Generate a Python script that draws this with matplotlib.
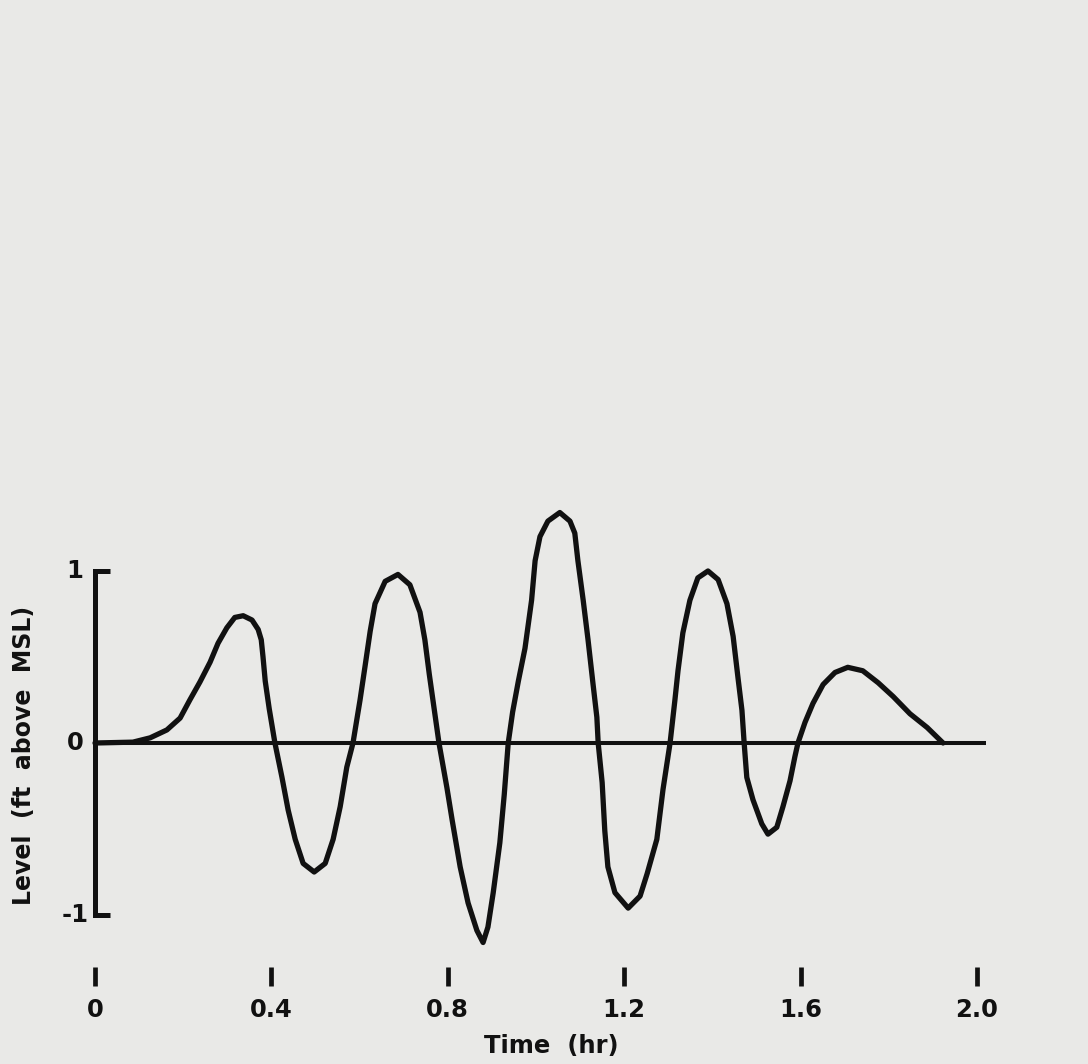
import matplotlib
matplotlib.use("Agg")
import matplotlib.pyplot as plt

# water level record (hr, ft above MSL)
time_hr = [0.000, 0.086, 0.125, 0.163, 0.193, 0.215, 0.238, 0.261, 0.279, 0.299,
           0.317, 0.336, 0.356, 0.370, 0.377, 0.381, 0.386, 0.395, 0.408,
           0.424, 0.438, 0.454, 0.472, 0.497, 0.522, 0.540, 0.556, 0.571, 0.585,
           0.601, 0.612, 0.624, 0.635, 0.658, 0.687, 0.714, 0.737, 0.748, 0.758,
           0.769, 0.780, 0.798, 0.810, 0.828, 0.846, 0.866, 0.880, 0.891, 0.903,
           0.918, 0.928, 0.937, 0.947, 0.960, 0.975, 0.990, 0.998, 1.009,
           1.027, 1.054, 1.077, 1.088, 1.095, 1.107, 1.118, 1.129, 1.138, 1.141,
           1.150, 1.156, 1.163, 1.179, 1.209, 1.236, 1.252, 1.274, 1.288, 1.304,
           1.315, 1.322, 1.333, 1.349, 1.367, 1.390, 1.413, 1.433, 1.447, 1.458,
           1.467, 1.472, 1.478, 1.492, 1.512, 1.526, 1.546, 1.560, 1.576, 1.587,
           1.594, 1.610, 1.628, 1.651, 1.678, 1.707, 1.741, 1.776, 1.810, 1.848,
           1.887, 1.909, 1.923]
level_ft = [0.00, 0.005, 0.03, 0.076, 0.145, 0.25, 0.355, 0.47, 0.58, 0.67,
            0.73, 0.74, 0.715, 0.66, 0.60, 0.50, 0.36, 0.20, 0.00,
            -0.20, -0.39, -0.56, -0.70, -0.75, -0.70, -0.56, -0.37, -0.14, 0.00,
            0.25, 0.44, 0.65, 0.81, 0.94, 0.98, 0.92, 0.76, 0.60, 0.40,
            0.20, 0.00, -0.26, -0.45, -0.72, -0.93, -1.09, -1.16, -1.07, -0.87,
            -0.58, -0.30, 0.00, 0.18, 0.36, 0.55, 0.83, 1.06, 1.20,
            1.29, 1.34, 1.29, 1.22, 1.06, 0.83, 0.60, 0.35, 0.15, 0.00,
            -0.23, -0.51, -0.72, -0.87, -0.96, -0.89, -0.76, -0.56, -0.27, 0.00,
            0.25, 0.42, 0.64, 0.83, 0.96, 1.00, 0.95, 0.81, 0.62, 0.38,
            0.19, 0.00, -0.20, -0.33, -0.47, -0.53, -0.49, -0.37, -0.22, -0.08,
            0.00, 0.12, 0.23, 0.34, 0.41, 0.44, 0.42, 0.35, 0.27, 0.17,
            0.09, 0.035, 0.00]

x_ticks = [0.0, 0.4, 0.8, 1.2, 1.6, 2.0]
x_tick_labels = ["0", "0.4", "0.8", "1.2", "1.6", "2.0"]
y_ticks = [1, 0, -1]
y_tick_labels = ["1", "0", "-1"]

bg = "#e9e9e7"
ink = "#111111"
font = {"family": ["DejaVu Sans"], "weight": "bold", "color": ink}

fig = plt.figure(figsize=(10.88, 10.64), dpi=100, facecolor=bg)
ax = fig.add_axes([0, 0, 1, 1])
ax.set_facecolor(bg)
ax.axis("off")

# map the hand-drawn frame: t=0 at px 95, 441 px/hr; level 0 at px 743, 172 px/ft
px_hr, px_ft = 441.0, 172.0
ax.set_xlim(-95 / px_hr, (1088 - 95) / px_hr)
ax.set_ylim(-(1064 - 743) / px_ft, 743 / px_ft)

# bracket style y axis
ax.plot([0.035, 0.0, 0.0, 0.035], [1.0, 1.0, -1.0, -1.0], color=ink, lw=3.6,
        solid_joinstyle="miter", solid_capstyle="butt")
# zero line
ax.plot([0.0, 2.02], [0, 0], color=ink, lw=2.9, solid_capstyle="butt")
# the trace
ax.plot(time_hr, level_ft, color=ink, lw=3.8, solid_joinstyle="round",
        solid_capstyle="round")

# x ticks drawn as free marks below the trace
for t, lab in zip(x_ticks, x_tick_labels):
    ax.plot([t, t], [-1.30, -1.41], color=ink, lw=3.4, solid_capstyle="butt")
    ax.text(t, -1.55, lab, ha="center", va="center", fontsize=17.5, **font)
ax.text(1.035, -1.76, "Time  (hr)", ha="center", va="center", fontsize=17.5, **font)

for v, lab in zip(y_ticks, y_tick_labels):
    ax.text(-0.045, v, lab, ha="center", va="center", fontsize=17.5, **font)
ax.text(-0.16, -0.07, "Level  (ft  above  MSL)", ha="center", va="center",
        rotation=90, fontsize=17, **font)

fig.savefig("out.png", dpi=100, facecolor=bg)
